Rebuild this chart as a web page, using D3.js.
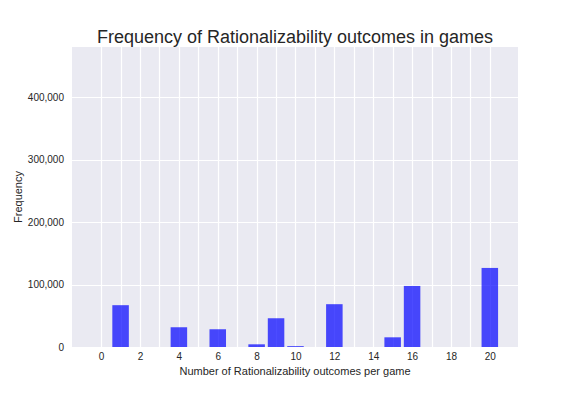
<!DOCTYPE html>
<html><head><meta charset="utf-8">
<script src="https://cdn.jsdelivr.net/npm/d3@7"></script>
<style>body{margin:0;background:#fff}svg{display:block}text{font-family:"Liberation Sans",Arial,sans-serif}</style>
</head><body><svg id="c" width="576" height="396"></svg>
<script>
const categories = [1, 4, 6, 8, 9, 10, 12, 15, 16, 20];
const values = [66900, 31600, 28400, 4300, 46000, 1400, 68500, 15500, 97700, 126500];
const xTickLabels = [0, 2, 4, 6, 8, 10, 12, 14, 16, 18, 20];
const xGrid = d3.range(0, 21);
const yTickLabels = [0, 100000, 200000, 300000, 400000];
const title = "Frequency of Rationalizability outcomes in games";
const xLabel = "Number of Rationalizability outcomes per game";
const yLabel = "Frequency";

const svg = d3.select("#c");
const L = 72, R = 518, T = 47, B = 347;
const x = d3.scaleLinear().domain([-1.5, 21.45]).range([L, R]);
const y = d3.scaleLinear().domain([0, 480000]).range([B, T]);

svg.append("rect").attr("x", L).attr("y", T).attr("width", R - L).attr("height", B - T).attr("fill", "#EAEAF2");

svg.append("g").selectAll("line").data(xGrid).join("line")
  .attr("x1", d => Math.round(x(d)) + 0.5).attr("x2", d => Math.round(x(d)) + 0.5)
  .attr("y1", T).attr("y2", B).attr("stroke", "#fff").attr("stroke-width", 1.2);
svg.append("g").selectAll("line").data(yTickLabels.slice(1)).join("line")
  .attr("x1", L).attr("x2", R)
  .attr("y1", d => Math.round(y(d)) + 0.5).attr("y2", d => Math.round(y(d)) + 0.5)
  .attr("stroke", "#fff").attr("stroke-width", 1.2);

const bw = 0.85;
svg.append("g").selectAll("rect").data(categories).join("rect")
  .attr("x", d => x(d - bw / 2)).attr("width", d => x(d + bw / 2) - x(d - bw / 2))
  .attr("y", (d, i) => y(values[i])).attr("height", (d, i) => y(0) - y(values[i]))
  .attr("fill", "blue").attr("fill-opacity", 0.7);

const xAxis = svg.append("g").attr("transform", `translate(0,${B})`)
  .call(d3.axisBottom(x).tickValues(xTickLabels).tickSize(0).tickPadding(6).tickFormat(d3.format("d")));
xAxis.select(".domain").remove();
xAxis.selectAll("text").attr("font-size", 10).attr("fill", "#262626");

const yAxis = svg.append("g").attr("transform", `translate(${L},0)`)
  .call(d3.axisLeft(y).tickValues(yTickLabels).tickSize(0).tickPadding(8).tickFormat(d3.format(",")));
yAxis.select(".domain").remove();
yAxis.selectAll("text").attr("font-size", 10).attr("fill", "#262626");

svg.append("text").attr("x", (L + R) / 2).attr("y", 43).attr("text-anchor", "middle")
  .attr("font-size", 18).attr("fill", "#262626").text(title);
svg.append("text").attr("x", (L + R) / 2).attr("y", 375).attr("text-anchor", "middle")
  .attr("font-size", 11).attr("fill", "#262626").text(xLabel);
svg.append("text").attr("transform", `translate(22,${(T + B) / 2}) rotate(-90)`).attr("text-anchor", "middle")
  .attr("font-size", 11).attr("fill", "#262626").text(yLabel);
</script></body></html>
